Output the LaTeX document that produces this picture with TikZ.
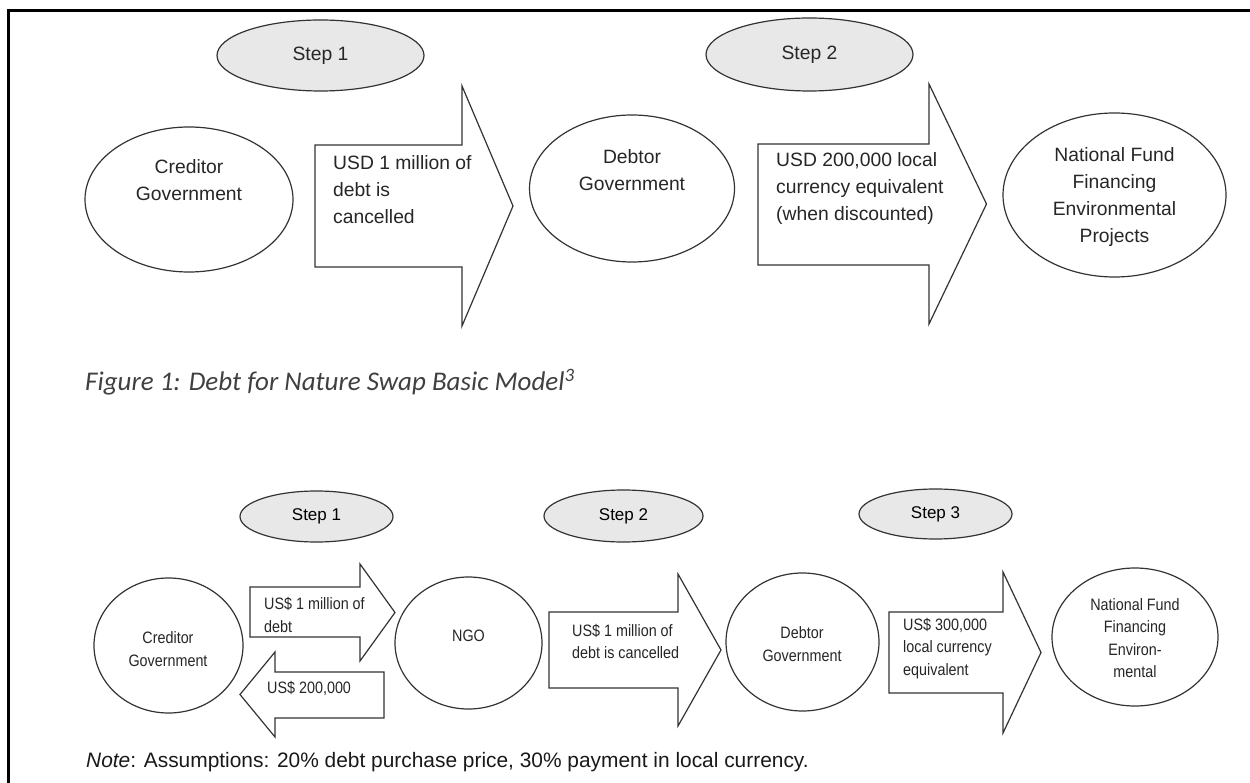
\documentclass[tikz,border=0pt]{standalone}
\usepackage{fontspec}
\setmainfont{Liberation Sans}
\newfontfamily\capfont{Carlito}
\newfontfamily\narrowfont[FakeStretch=0.87]{Liberation Sans}
\usetikzlibrary{shapes.geometric}

\begin{document}
\begin{tikzpicture}[x=1pt,y=-1pt,
  oval/.style={draw=black!80, line width=1.2pt, ellipse, inner sep=0pt},
  stepoval/.style={oval, fill=black!9},
  blockarrow/.style={draw=black!80, line width=1.2pt, line join=miter, fill=white},
  toptext/.style={font=\fontsize{19.3}{27}\selectfont, text=black!85, inner sep=0pt},
  bottext/.style={font=\narrowfont\fontsize{16.5}{22.5}\selectfont, text=black!85, inner sep=0pt},
  leftblock/.style={anchor=west, align=left},
  midblock/.style={align=center},
]
\useasboundingbox (0,0) rectangle (1250,783);

% page frame
\draw[line width=3pt] (8.5,800) -- (8.5,10.5) -- (1270,10.5);

% ---------- basic model ----------
\node[stepoval, toptext, minimum width=207, minimum height=71] (ta) at (320.5,55.5) {Step 1};
\node[stepoval, toptext, minimum width=207, minimum height=73] (tb) at (809.5,54.5) {Step 2};

\node[oval, minimum width=208, minimum height=145] (tcred) at (189,199.5) {};
\node[toptext, midblock] (tcredT) at (189,180) {Creditor\\Government};

\node[oval, minimum width=205, minimum height=147] (tdebt) at (632,188.5) {};
\node[toptext, midblock] (tdebtT) at (632,170) {Debtor\\Government};

\node[oval, minimum width=223, minimum height=164] (tfund) at (1114.5,195) {};
\node[toptext, midblock] (tfundT) at (1114.5,197) {National Fund\\Financing\\Environmental\\Projects};

\draw[blockarrow] (315,145) -- (462,145) -- (462,86) -- (513,206) -- (462,326)
  -- (462,267) -- (315,267) -- cycle;
\node[toptext, leftblock] (tarrA) at (333,190) {USD 1 million of\\debt is\\cancelled};

\draw[blockarrow] (758,144) -- (929,144) -- (929,84) -- (986.5,204) -- (929,324)
  -- (929,265) -- (758,265) -- cycle;
\node[toptext, leftblock] (tarrB) at (776,189) {USD 200,000 local\\currency equivalent\\(when discounted)};

\node[anchor=west, inner sep=0pt, text=black!75,
  font=\capfont\itshape\fontsize{27}{32}\selectfont] (caption) at (85,382)
  {Figure 1: Debt for Nature Swap Basic Model\textsuperscript{3}};

% ---------- model with an NGO ----------
\node[stepoval, font=\fontsize{17}{20}\selectfont, minimum width=153, minimum height=51] (ba) at (316.5,516.5) {Step 1};
\node[stepoval, font=\fontsize{17}{20}\selectfont, minimum width=159, minimum height=52] (bb) at (623.5,516) {Step 2};
\node[stepoval, font=\fontsize{17}{20}\selectfont, minimum width=153, minimum height=50] (bc) at (935.5,514) {Step 3};

\node[oval, minimum width=149, minimum height=135] (bcred) at (168.5,645.5) {};
\node[bottext, midblock] (bcredT) at (168,649) {Creditor\\Government};

\node[oval, minimum width=147, minimum height=132] (bngo) at (468.5,643) {};
\node[bottext] (bngoT) at (468.5,636) {NGO};

\node[oval, minimum width=153, minimum height=138] (bdebt) at (802.5,642) {};
\node[bottext, midblock] (bdebtT) at (802,644) {Debtor\\Government};

\node[oval, minimum width=166, minimum height=138] (bfund) at (1135,637) {};
\node[bottext, midblock] (bfundT) at (1135,638) {National Fund\\Financing\\Environ-\\mental};

\draw[blockarrow] (250,587) -- (360,587) -- (360,564) -- (395,612.5) -- (360,661)
  -- (360,637) -- (250,637) -- cycle;
\node[bottext, leftblock] (bbuy) at (264,615) {US\$ 1 million of\\debt};

\draw[blockarrow] (384,672) -- (275,672) -- (275,652) -- (240,694.5) -- (275,737)
  -- (275,718) -- (384,718) -- cycle;
\node[bottext, leftblock] (bpay) at (267,688) {US\$ 200,000};

\draw[blockarrow] (549,612) -- (678,612) -- (678,574) -- (721,650) -- (678,726)
  -- (678,688) -- (549,688) -- cycle;
\node[bottext, leftblock] (bcancel) at (572,641.5) {US\$ 1 million of\\debt is cancelled};

\draw[blockarrow] (889,612) -- (1003,612) -- (1003,572) -- (1041,652.5) -- (1003,733)
  -- (1003,693) -- (889,693) -- cycle;
\node[bottext, leftblock] (blocal) at (903,648.5) {US\$ 300,000\\local currency\\equivalent};

\node[anchor=west, inner sep=0pt, text=black!90, font=\fontsize{20.9}{24}\selectfont] (note) at (86,762)
  {\textit{Note}: Assumptions: 20\% debt purchase price, 30\% payment in local currency.};
\end{tikzpicture}
\end{document}
